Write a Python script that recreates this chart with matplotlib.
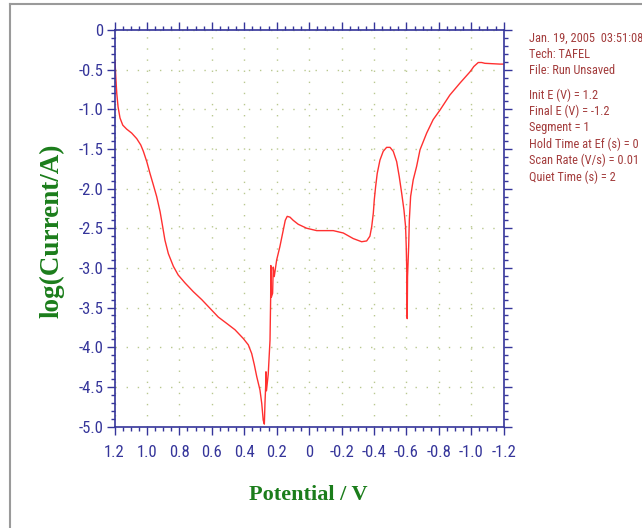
import matplotlib
matplotlib.use("Agg")
import matplotlib.pyplot as plt
from matplotlib.ticker import MultipleLocator, FuncFormatter
from matplotlib.lines import Line2D
from matplotlib import font_manager as fm

plt.rcParams['font.family'] = ['Liberation Sans', 'DejaVu Sans']

potential = [1.197, 1.191, 1.186, 1.178, 1.166, 1.149, 1.125, 1.094, 1.063, 1.038,
             1.022, 1.001, 0.981, 0.961, 0.940, 0.919, 0.903, 0.889, 0.868, 0.837,
             0.807, 0.765, 0.714, 0.662, 0.611, 0.560, 0.508, 0.457, 0.406, 0.375,
             0.354, 0.338, 0.323, 0.303, 0.292, 0.283, 0.276,
             0.272, 0.268, 0.266, 0.263, 0.252, 0.241, 0.237, 0.236, 0.233, 0.225,
             0.221, 0.215, 0.200, 0.180, 0.159, 0.147, 0.135, 0.118, 0.098, 0.067,
             0.015, -0.047, -0.149, -0.211, -0.272, -0.324, -0.355, -0.375, -0.386,
             -0.396, -0.402, -0.410, -0.420, -0.437, -0.457, -0.478, -0.499, -0.519,
             -0.540, -0.556, -0.571, -0.585, -0.595, -0.599, -0.603, -0.605, -0.607,
             -0.614, -0.618, -0.626, -0.642, -0.663, -0.684, -0.725, -0.765, -0.807,
             -0.868, -0.930, -0.991, -1.002, -1.016, -1.043, -1.064, -1.084, -1.177,
             -1.200]
log_current = [-0.39, -0.63, -0.80, -0.97, -1.11, -1.20, -1.25, -1.30, -1.37, -1.45,
               -1.53, -1.66, -1.81, -1.95, -2.10, -2.29, -2.48, -2.65, -2.82, -2.98,
               -3.09, -3.19, -3.30, -3.40, -3.51, -3.62, -3.70, -3.78, -3.89, -3.97,
               -4.08, -4.22, -4.37, -4.54, -4.71, -4.92, -4.97,
               -4.70, -4.50, -4.31, -4.55, -4.34, -3.91, -3.37, -2.97, -3.37, -3.32,
               -2.99, -3.11, -2.90, -2.73, -2.52, -2.40, -2.35, -2.36, -2.40, -2.45,
               -2.50, -2.53, -2.53, -2.56, -2.63, -2.67, -2.66, -2.60, -2.48,
               -2.31, -2.14, -1.98, -1.81, -1.64, -1.53, -1.48, -1.48, -1.53,
               -1.66, -1.85, -2.06, -2.27, -2.48, -2.73, -3.11, -3.64, -3.11,
               -2.73, -2.40, -2.10, -1.89, -1.72, -1.51, -1.30, -1.13, -1.01,
               -0.82, -0.67, -0.53, -0.50, -0.46, -0.41, -0.41, -0.42, -0.43,
               -0.43]

info_lines = ["Jan. 19, 2005  03:51:08", "Tech: TAFEL", "File: Run Unsaved",
              "Init E (V) = 1.2", "Final E (V) = -1.2", "Segment = 1",
              "Hold Time at Ef (s) = 0", "Scan Rate (V/s) = 0.01", "Quiet Time (s) = 2"]
info_y_px = [38, 54.5, 71, 95, 111, 127.5, 144, 160.5, 177]


def find_narrow_font():
    prefs = ['Liberation Sans Narrow', 'Arial Narrow', 'Roboto Condensed',
             'Open Sans Condensed', 'Noto Sans Condensed', 'DejaVu Sans Condensed']
    found = {}
    for f in fm.fontManager.ttflist:
        if f.style != 'normal':
            continue
        if f.weight not in (400, 'normal', 'regular', 'book', 'Regular'):
            continue
        n = f.name
        if 'Narrow' in n or 'Condensed' in n:
            found.setdefault(n, f.fname)
        elif f.stretch in ('semi-condensed', 'condensed', 525, 625, 700):
            found.setdefault(n + ' ' + str(f.stretch), f.fname)
    for p in prefs:
        if p in found:
            return found[p]
    for k in found:
        if 'semi' in k.lower() or 'narrow' in k.lower():
            return found[k]
    for k in found:
        if 'Extra' not in k and 'Ultra' not in k and 'mono' not in k.lower():
            return found[k]
    return None


narrow = find_narrow_font()
if narrow:
    tick_fp = fm.FontProperties(fname=narrow, size=12)
    info_fp = fm.FontProperties(fname=narrow, size=8.9)
else:
    tick_fp = fm.FontProperties(family=['Liberation Sans', 'DejaVu Sans'], size=10)
    info_fp = fm.FontProperties(family=['Liberation Sans', 'DejaVu Sans'], size=8.0)

W, H = 642, 528
navy = '#35359a'
fig = plt.figure(figsize=(W / 100, H / 100), dpi=100)
ax = fig.add_axes([114.5 / W, 1 - 426.5 / H, (503.7 - 114.5) / W, (426.5 - 30) / H])

ax.plot(potential, log_current, color='#ff3030', lw=1.0)

ax.set_xlim(1.2, -1.2)
ax.set_ylim(-5.0, 0)
ax.xaxis.set_major_locator(MultipleLocator(0.2))
ax.xaxis.set_minor_locator(MultipleLocator(0.05))
ax.yaxis.set_major_locator(MultipleLocator(0.5))
ax.yaxis.set_minor_locator(MultipleLocator(0.1))


def fmt(v, pos):
    if abs(v) < 1e-9:
        return '0'
    return f'{v:.1f}'


ax.xaxis.set_major_formatter(FuncFormatter(fmt))
ax.yaxis.set_major_formatter(FuncFormatter(fmt))

ax.tick_params(which='both', direction='out', top=True, right=True, color=navy,
               labelcolor=navy, width=1)
ax.tick_params(which='major', length=6)
ax.tick_params(which='minor', length=3)
ax.tick_params(axis='x', which='major', pad=7)
ax.tick_params(axis='y', which='major', pad=2)
for lbl in ax.get_xticklabels() + ax.get_yticklabels():
    lbl.set_fontproperties(tick_fp)
for s in ax.spines.values():
    s.set_color(navy)
    s.set_linewidth(1.2)

ax.grid(True, which='major', color='#b9c88f', linestyle=(0, (1, 7)), lw=1.0)

fig.text(52 / W, 1 - 231 / H, 'log(Current/A)', rotation=90, ha='center', va='center',
         fontsize=19.5, fontweight='bold', color='#1b7d1b',
         family=['Liberation Serif', 'DejaVu Serif'])
fig.text(308 / W, 1 - 495 / H, 'Potential / V', ha='center', va='center',
         fontsize=16, fontweight='bold', color='#1b7d1b',
         family=['Liberation Serif', 'DejaVu Serif'])

for t, yp in zip(info_lines, info_y_px):
    fig.text(529 / W, 1 - yp / H, t, ha='left', va='center', color='#a33c3c',
             fontproperties=info_fp)

fig.add_artist(Line2D([10.5 / W, 1.0], [1 - 4 / H, 1 - 4 / H], color='#9a9a9a', lw=1.5,
                      transform=fig.transFigure))
fig.add_artist(Line2D([10.5 / W, 10.5 / W], [0, 1 - 4 / H], color='#9a9a9a', lw=1.5,
                      transform=fig.transFigure))

fig.savefig('out.png', dpi=100)
